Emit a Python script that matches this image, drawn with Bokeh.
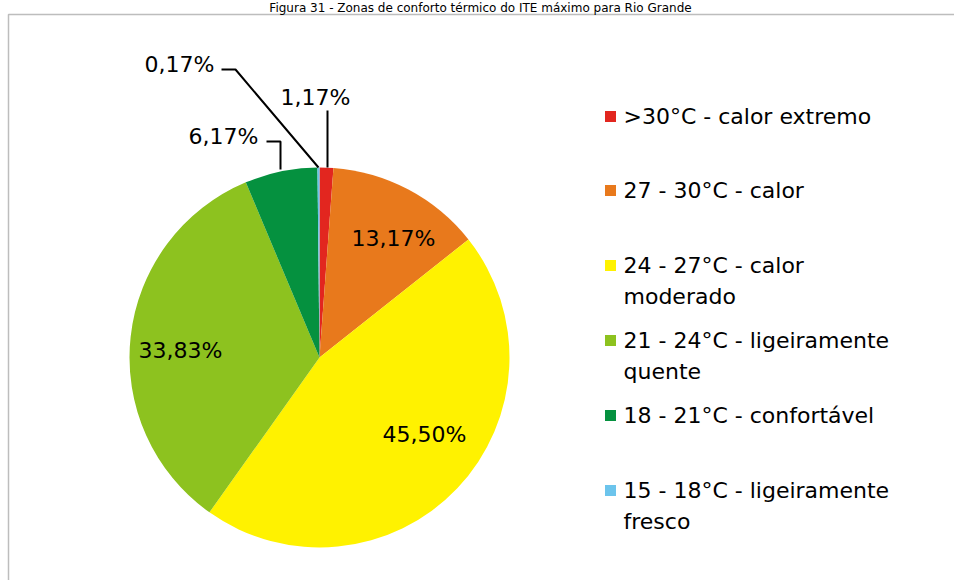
import math
from bokeh.plotting import figure
from bokeh.models import Range1d, ColumnDataSource
from bokeh.core.properties import value
from bokeh.embed import file_html
from bokeh.resources import INLINE

# ---- data ----
categories = [
    ">30°C - calor extremo",
    "27 - 30°C - calor",
    "24 - 27°C - calor\nmoderado",
    "21 - 24°C - ligeiramente\nquente",
    "18 - 21°C - confortável",
    "15 - 18°C - ligeiramente\nfresco",
]
percent = [1.17, 13.17, 45.50, 33.83, 6.17, 0.17]
colors = ["#E2261F", "#E8791C", "#FFF200", "#8DC21F", "#05913F", "#6CC4EC"]
title = "Figura 31 - Zonas de conforto térmico do ITE máximo para Rio Grande"

W, H = 954, 580
FONT = value("DejaVu Sans")
TXT = "#000000"

def Y(py):
    return H - py

p = figure(width=W, height=H, output_backend="svg", toolbar_location=None,
           x_range=Range1d(0, W), y_range=Range1d(0, H), min_border=0)
p.axis.visible = False
p.grid.visible = False
p.outline_line_color = None
p.background_fill_color = "white"
p.border_fill_color = "white"

# chart area border
p.quad(left=[8], right=[W + 10], bottom=[Y(H + 10)], top=[Y(14)],
       fill_color=None, line_color="#BDBDBD", line_width=1.5)

# title at top (reference shows it cropped; kept fully visible here)
p.text(x=[480], y=[Y(0)], text=[title], text_font=FONT, text_font_size="12px",
       text_align="center", text_baseline="top", text_color=TXT)

# ---- pie ----
cx, cy, R = 319, 357, 190
total = sum(percent)
cum = 0.0
starts, ends = [], []
for v in percent:
    t1 = cum / total * 2 * math.pi
    cum += v
    t2 = cum / total * 2 * math.pi
    # clockwise from 12 o'clock -> bokeh angles
    starts.append(math.pi / 2 - t2)
    ends.append(math.pi / 2 - t1)

src = ColumnDataSource(dict(x=[cx] * len(percent), y=[Y(cy)] * len(percent),
                            start=starts, end=ends, color=colors))
p.wedge(x="x", y="y", radius=R, start_angle="start", end_angle="end",
        fill_color="color", line_color=None, source=src)

def fmt(v):
    return ("%.2f" % v).replace(".", ",") + "%"

# inside labels (layout positions)
inside = {1: (393, 238), 2: (424, 434), 3: (180, 350)}
for i, (lx, ly) in inside.items():
    p.text(x=[lx], y=[Y(ly)], text=[fmt(percent[i])], text_font=FONT,
           text_font_size="22px", text_align="center", text_baseline="middle",
           text_color=TXT)

# outside labels with leader lines
p.text(x=[315], y=[Y(97)], text=[fmt(percent[0])], text_font=FONT,
       text_font_size="22px", text_align="center", text_baseline="middle", text_color=TXT)
p.line(x=[327, 327], y=[Y(110), Y(167)], line_color="black", line_width=2)

p.text(x=[214], y=[Y(64)], text=[fmt(percent[5])], text_font=FONT,
       text_font_size="22px", text_align="right", text_baseline="middle", text_color=TXT)
p.line(x=[221, 235, 318], y=[Y(69), Y(69), Y(167)], line_color="black", line_width=2)

p.text(x=[258], y=[Y(136)], text=[fmt(percent[4])], text_font=FONT,
       text_font_size="22px", text_align="right", text_baseline="middle", text_color=TXT)
p.line(x=[266, 280, 280], y=[Y(141), Y(141), Y(169)], line_color="black", line_width=2)

# ---- legend ----
row_py = [116, 190, 265, 340, 415, 490]
p.scatter(x=[610] * 6, y=[Y(v) for v in row_py], marker="square", size=11,
          fill_color=colors, line_color=None)
p.text(x=[623] * 6, y=[Y(v - 13) for v in row_py], text=categories, text_font=FONT,
       text_font_size="22px", text_align="left", text_baseline="top",
       text_line_height=1.24, text_color=TXT)

open("out.html", "w").write(file_html(p, INLINE))
